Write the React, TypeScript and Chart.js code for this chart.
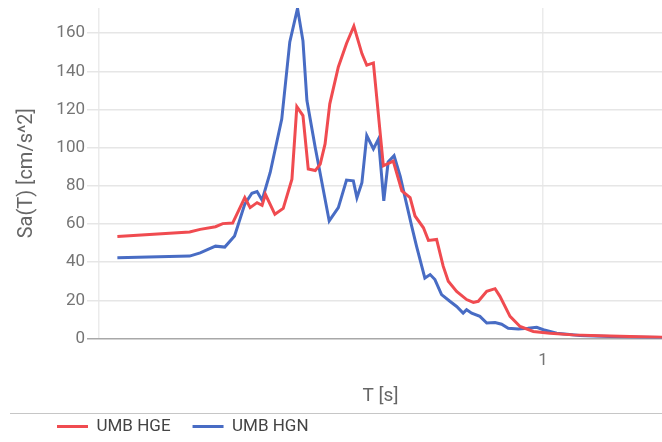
import React, { useEffect, useRef } from 'react';
import { Chart, registerables } from 'chart.js';

Chart.register(...registerables);

// Periods T [s] and spectral accelerations Sa(T) [cm/s^2]
const hgePeriods = [0.110, 0.160, 0.169, 0.183, 0.190, 0.200, 0.213, 0.219, 0.227, 0.233, 0.237, 0.249, 0.260, 0.272, 0.279, 0.288, 0.296, 0.307, 0.315, 0.323, 0.331, 0.346, 0.361, 0.375, 0.391, 0.401, 0.415, 0.437, 0.460, 0.481, 0.502, 0.515, 0.538, 0.552, 0.576, 0.596, 0.612, 0.639, 0.673, 0.697, 0.715, 0.747, 0.780, 0.800, 0.843, 0.888, 0.951, 1.037, 1.168, 1.344, 1.570, 1.854];
const hgeSa = [53.5, 55.8, 57.2, 58.6, 60.2, 60.5, 73.8, 68.6, 71.2, 69.8, 75.6, 65.1, 68.2, 83.5, 121.5, 116.8, 88.8, 88.0, 91.4, 102.0, 123.0, 142.3, 154.6, 163.7, 149.3, 143.2, 144.4, 90.5, 93.0, 77.4, 73.8, 64.2, 58.0, 51.4, 51.9, 37.9, 30.0, 24.7, 20.4, 18.9, 19.5, 24.7, 26.1, 22.1, 11.6, 6.3, 3.7, 2.8, 1.9, 1.4, 1.0, 0.7];

const hgnPeriods = [0.110, 0.160, 0.169, 0.176, 0.183, 0.192, 0.202, 0.213, 0.221, 0.227, 0.233, 0.243, 0.258, 0.269, 0.280, 0.288, 0.294, 0.307, 0.312, 0.330, 0.346, 0.361, 0.374, 0.381, 0.391, 0.401, 0.415, 0.426, 0.438, 0.448, 0.462, 0.477, 0.493, 0.506, 0.519, 0.542, 0.557, 0.571, 0.591, 0.617, 0.639, 0.661, 0.673, 0.691, 0.721, 0.747, 0.780, 0.807, 0.835, 0.880, 0.925, 0.968, 1.002, 1.074, 1.211, 1.416, 1.654, 1.854];
const hgnSa = [42.3, 43.2, 44.9, 46.7, 48.4, 47.9, 53.7, 70.4, 76.1, 77.0, 72.5, 87.0, 115.0, 155.4, 173.0, 156.0, 124.7, 100.0, 91.4, 61.6, 68.6, 83.0, 82.6, 73.8, 81.7, 106.3, 99.3, 104.5, 72.1, 92.5, 95.8, 85.0, 70.4, 59.0, 48.4, 31.7, 33.5, 30.9, 23.0, 19.5, 16.8, 13.3, 15.1, 13.3, 11.6, 8.1, 8.4, 7.5, 5.4, 5.0, 5.4, 5.9, 4.6, 2.8, 1.6, 1.1, 0.7, 0.5];

const seriesNames = ['UMB HGE', 'UMB HGN'];
const xTickValues = [0.1, 1];
const xTickLabels = ['', '1'];
const xRange = [0.1, 1.854];
const yRange = [0, 173.2];
const yStep = 20;

const RED = '#f04b50';
const BLUE = '#486cc4';

const extrasPlugin = {
  id: 'extras',
  afterLayout(chart: any) {
    const lg = chart.legend;
    if (lg) {
      lg.left = 35;
    }
  },
  beforeDraw(chart: any) {
    const lg = chart.legend;
    if (!lg) return;
    const ctx = chart.ctx;
    const y = Math.round(lg.top + 17) + 0.5;
    ctx.save();
    ctx.strokeStyle = '#c6c6c6';
    ctx.lineWidth = 1;
    ctx.beginPath();
    ctx.moveTo(10, y);
    ctx.lineTo(chart.width, y);
    ctx.stroke();
    ctx.restore();
  },
};

export default function App() {
  const ref = useRef<HTMLCanvasElement | null>(null);

  useEffect(() => {
    document.body.style.margin = '0';
    const canvas = ref.current;
    if (!canvas) return;
    Chart.defaults.font.family = 'Roboto';

    const chart = new Chart(canvas, {
      type: 'line',
      data: {
        datasets: [
          {
            label: seriesNames[0],
            data: hgePeriods.map((t, i) => ({ x: t, y: hgeSa[i] })),
            borderColor: RED,
            backgroundColor: RED,
            borderWidth: 3,
            pointRadius: 0,
            tension: 0,
            fill: false,
          },
          {
            label: seriesNames[1],
            data: hgnPeriods.map((t, i) => ({ x: t, y: hgnSa[i] })),
            borderColor: BLUE,
            backgroundColor: BLUE,
            borderWidth: 3,
            pointRadius: 0,
            tension: 0,
            fill: false,
          },
        ],
      },
      options: {
        responsive: false,
        animation: false,
        layout: { padding: { top: 8, right: 0, bottom: 0, left: 0 } },
        plugins: {
          tooltip: { enabled: false },
          legend: {
            position: 'bottom',
            align: 'start',
            labels: {
              usePointStyle: true,
              pointStyle: 'line',
              pointStyleWidth: 31,
              padding: 22,
              color: '#444444',
              font: { size: 17, family: 'Roboto' },
            },
          },
        },
        scales: {
          x: {
            type: 'logarithmic',
            min: xRange[0],
            max: xRange[1],
            afterFit: (s: any) => {
              s.height = 57.5;
              s.paddingLeft = 0;
              s.paddingRight = 0;
            },
            afterBuildTicks: (s: any) => {
              s.ticks = xTickValues.map((v) => ({ value: v }));
            },
            ticks: {
              autoSkip: false,
              maxRotation: 0,
              padding: 12,
              color: '#757575',
              font: { size: 17 },
              callback: (v: any) => {
                const i = xTickValues.indexOf(Number(v));
                return i >= 0 ? xTickLabels[i] : '';
              },
            },
            grid: { color: '#ebebeb', lineWidth: 1.5, drawTicks: false },
            border: { display: false },
            title: {
              display: true,
              text: 'T [s]',
              color: '#666666',
              font: { size: 19 },
              padding: { top: 0, bottom: -12 },
            },
          },
          y: {
            min: yRange[0],
            max: yRange[1],
            afterFit: (s: any) => {
              s.width = 99;
              s.paddingTop = 0;
              s.paddingBottom = 0;
            },
            ticks: {
              stepSize: yStep,
              includeBounds: false,
              padding: 2,
              color: '#757575',
              font: { size: 17 },
            },
            grid: {
              color: (c: any) => (c.tick && c.tick.value === 0 ? '#a8a8a8' : '#e6e6e6'),
              lineWidth: 1.5,
              tickLength: 12,
            },
            border: { display: false },
            title: {
              display: true,
              text: 'Sa(T) [cm/s^2]',
              color: '#666666',
              font: { size: 20 },
              padding: { top: 15, bottom: 0 },
            },
          },
        },
      },
      plugins: [extrasPlugin],
    } as any);

    return () => {
      chart.destroy();
    };
  }, []);

  return (
    <div style={{ width: 662, height: 442, overflow: 'hidden', position: 'relative' }}>
      <canvas ref={ref} width={662} height={445} style={{ display: 'block' }} />
    </div>
  );
}
